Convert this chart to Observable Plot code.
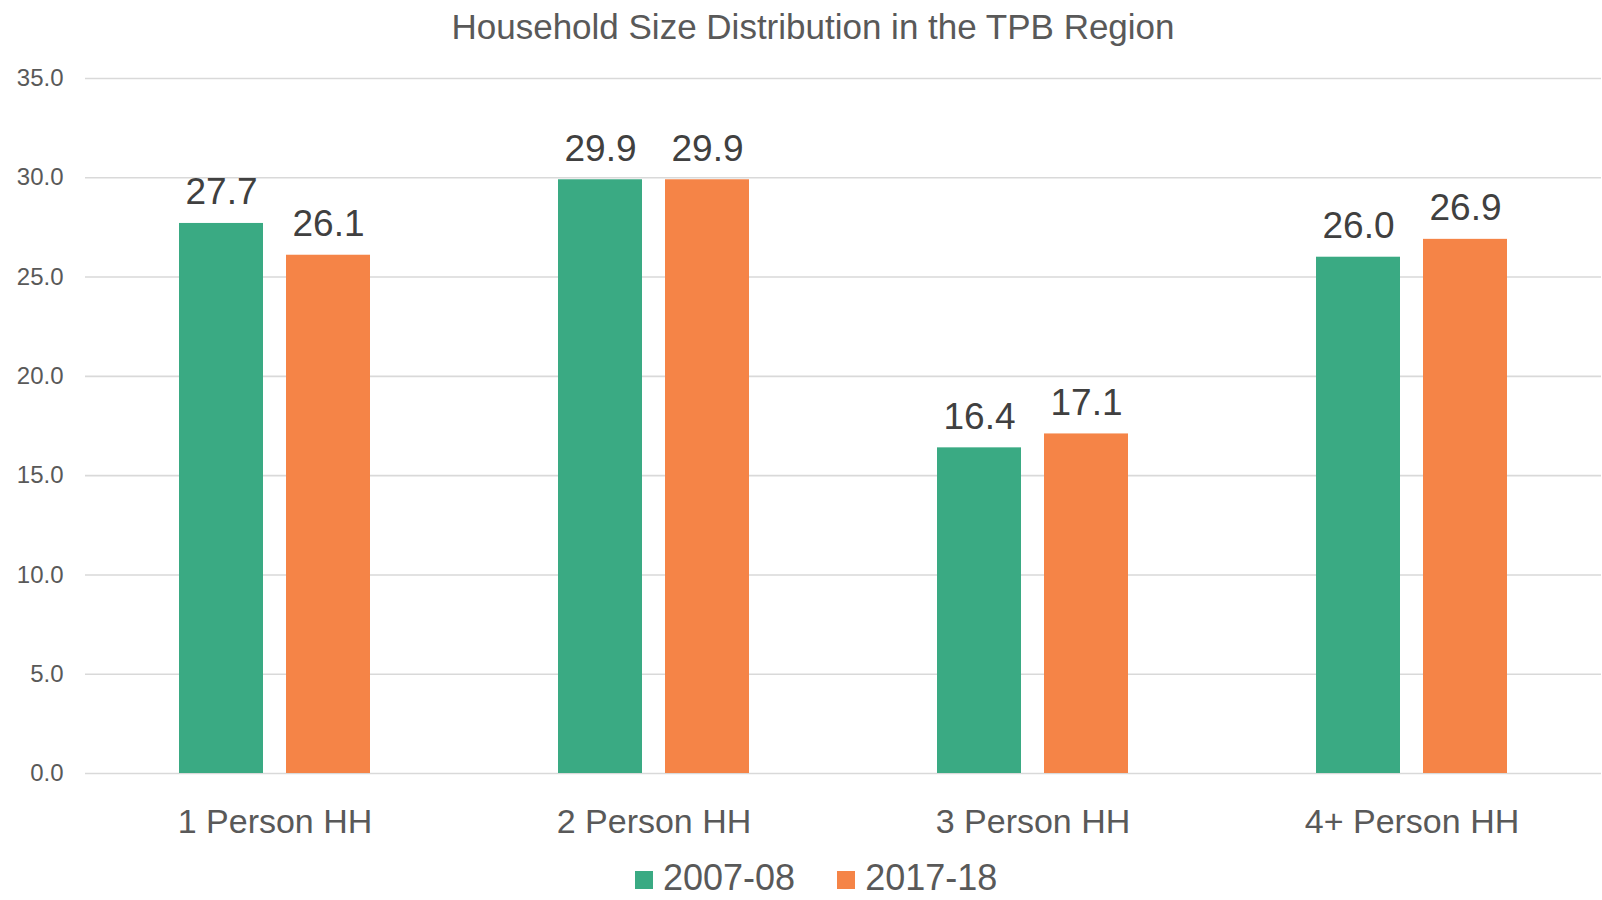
<!DOCTYPE html>
<html>
<head>
<meta charset="utf-8">
<script src="https://cdn.jsdelivr.net/npm/d3@7"></script>
<script src="https://cdn.jsdelivr.net/npm/@observablehq/plot@0.6"></script>
<style>
  html, body { margin: 0; padding: 0; background: #fff; }
  #wrap { position: relative; width: 1602px; height: 900px; overflow: hidden; font-family: "Liberation Sans", Arial, sans-serif; }
  #title { position: absolute; left: 0; top: 7px; width: 1626px; text-align: center; font-size: 35px; line-height: 40px; color: #595959; }
  #chart { position: absolute; left: 0; top: 0; }
  #legend { position: absolute; left: 635px; top: 858px; display: flex; align-items: center; font-size: 36px; line-height: 40px; color: #595959; }
  .item { display: flex; align-items: center; }
  .sw { width: 18px; height: 18px; margin-right: 10px; position: relative; top: 2px; }
</style>
</head>
<body>
<div id="wrap">
  <div id="title">Household Size Distribution in the TPB Region</div>
  <div id="chart"></div>
  <div id="legend"></div>
</div>
<script>
const categories = ["1 Person HH", "2 Person HH", "3 Person HH", "4+ Person HH"];
const series = ["2007-08", "2017-18"];
const values2007 = [27.7, 29.9, 16.4, 26.0];
const values2017 = [26.1, 29.9, 17.1, 26.9];
const yTicks = [0, 5, 10, 15, 20, 25, 30, 35];
const colors = ["#3AAA83", "#F58447"];

const data = [];
categories.forEach((c, i) => {
  data.push({category: c, series: series[0], value: values2007[i]});
  data.push({category: c, series: series[1], value: values2017[i]});
});

const chart = Plot.plot({
  width: 1602,
  height: 840,
  marginLeft: 83,
  marginRight: 0,
  marginTop: 78,
  marginBottom: 67,
  style: {fontFamily: "'Liberation Sans', Arial, sans-serif", background: "transparent"},
  fx: {domain: categories, padding: 0, label: null},
  x: {domain: series, paddingInner: 0.213, paddingOuter: 0.866, axis: null},
  y: {domain: [0, 35]},
  color: {domain: series, range: colors},
  marks: [
    Plot.gridY(yTicks, {stroke: "#d9d9d9", strokeOpacity: 1, strokeWidth: 1.6}),
    Plot.axisY(yTicks, {tickSize: 0, tickPadding: 22, fontSize: 24, fill: "#595959", tickFormat: d => d.toFixed(1), label: null}),
    Plot.axisFx({anchor: "bottom", tickSize: 0, tickPadding: 35, fontSize: 34, fill: "#595959", label: null}),
    Plot.barY(data, {fx: "category", x: "series", y: "value", fill: "series"}),
    Plot.text(data, {fx: "category", x: "series", y: "value", text: d => d.value.toFixed(1), lineAnchor: "bottom", dy: -19, fontSize: 37, fill: "#404040"})
  ]
});
document.getElementById("chart").appendChild(chart);

const legend = document.getElementById("legend");
series.forEach((s, i) => {
  const item = document.createElement("div");
  item.className = "item";
  if (i > 0) item.style.marginLeft = "42px";
  const sw = document.createElement("span");
  sw.className = "sw";
  sw.style.background = colors[i];
  const t = document.createElement("span");
  t.textContent = s;
  item.appendChild(sw);
  item.appendChild(t);
  legend.appendChild(item);
});
</script>
</body>
</html>
